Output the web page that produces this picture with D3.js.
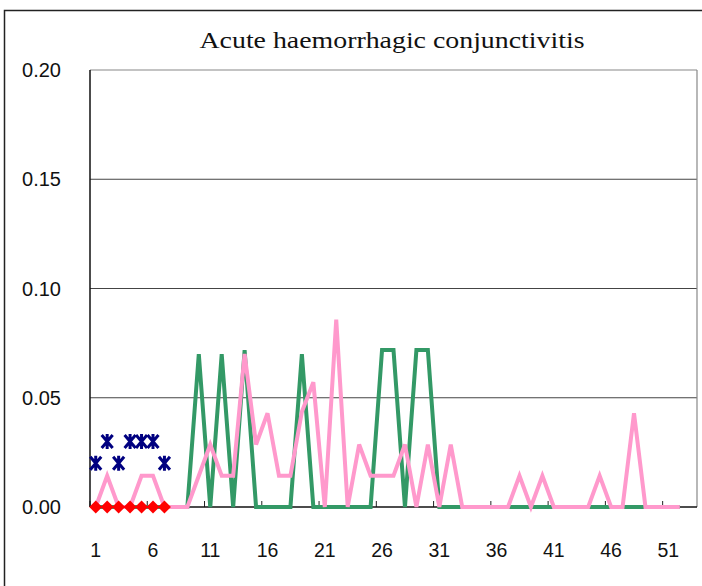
<!DOCTYPE html>
<html><head><meta charset="utf-8">
<script src="https://cdn.jsdelivr.net/npm/d3@7"></script>
<style>body{margin:0;background:#fff}svg{display:block}</style>
</head><body>
<script>
const title = "Acute haemorrhagic conjunctivitis";
const weeks = d3.range(1, 54);
const xTickLabels = [1, 6, 11, 16, 21, 26, 31, 36, 41, 46, 51];
const yTicks = [0, 0.05, 0.10, 0.15, 0.20];
// previous year (green), weeks 1-52
const greenValues = [0,0,0,0,0,0,0,0,0,0.070,0,0.070,0,0.0718,0,0,0,0,0.070,0,0,0,0,0,0,0.0718,0.0718,0,0.0718,0.0718,0,0,0,0,0,0,0,0,0,0,0,0,0,0,0,0,0,0,0,0,0,0];
// average (pink), weeks 1-52
const pinkValues = [0,0.0143,0,0,0.0143,0.0143,0,0,0,0.0143,0.0286,0.0143,0.0143,0.070,0.0286,0.0429,0.0143,0.0143,0.0436,0.0571,0,0.0857,0,0.0286,0.0143,0.0143,0.0143,0.0286,0,0.0286,0,0.0286,0,0,0,0,0,0.0143,0,0.0143,0,0,0,0,0.0143,0,0,0.0429,0,0,0,0];
// navy asterisks, weeks 1-7
const blueValues = [0.020,0.030,0.020,0.030,0.030,0.030,0.020];
// current year red diamonds, weeks 1-7
const redValues = [0,0,0,0,0,0,0];

const W = 702, H = 586;
const L = 90, R = 697, T = 70, B = 507;
const svg = d3.select("body").append("svg").attr("width", W).attr("height", H);

// outer frame
svg.append("path").attr("d", `M4.5,${H} V10.5 H${W}`).attr("fill","none").attr("stroke","#222").attr("stroke-width",1.5);

const x = d3.scaleBand().domain(weeks).range([L, R]).paddingInner(0).paddingOuter(0);
const cx = w => x(w) + x.bandwidth() / 2;
const y = d3.scaleLinear().domain([0, 0.20]).range([B, T]);

// gridlines
svg.append("g").selectAll("line").data(yTicks.filter(d => d > 0)).join("line")
  .attr("x1", L).attr("x2", R).attr("y1", d => y(d)).attr("y2", d => y(d))
  .attr("stroke", d => d === 0.20 ? "#888" : "#444").attr("stroke-width", 1.2);
// right border
svg.append("line").attr("x1", R).attr("x2", R).attr("y1", T).attr("y2", B).attr("stroke", "#888").attr("stroke-width", 1.2);

// y labels
svg.append("g").selectAll("text").data(yTicks).join("text")
  .attr("x", 61).attr("y", d => y(d)).attr("dy", "0.36em")
  .attr("text-anchor", "end").attr("font-family", "Liberation Sans, Arial, sans-serif")
  .attr("font-size", 20).attr("fill", "#111").text(d => d.toFixed(2));

// x axis ticks (inside, at category boundaries every 5)
const tickB = d3.range(0, 53, 5);
svg.append("g").selectAll("line").data(tickB).join("line")
  .attr("x1", d => x(d + 1)).attr("x2", d => x(d + 1)).attr("y1", B).attr("y2", B - 6)
  .attr("stroke", "#222").attr("stroke-width", 1);

// x labels
svg.append("g").selectAll("text").data(xTickLabels).join("text")
  .attr("x", d => cx(d)).attr("y", 557).attr("text-anchor", "middle")
  .attr("font-family", "Liberation Sans, Arial, sans-serif").attr("font-size", 19.5)
  .attr("fill", "#111").text(d => d);

// axis lines
svg.append("line").attr("x1", L).attr("x2", R).attr("y1", B).attr("y2", B).attr("stroke", "#111").attr("stroke-width", 1.5);
svg.append("line").attr("x1", L).attr("x2", L).attr("y1", T).attr("y2", B).attr("stroke", "#111").attr("stroke-width", 1.5);

const line = d3.line().x((d, i) => cx(i + 1)).y(d => y(d));

svg.append("path").datum(greenValues).attr("d", line).attr("fill", "none")
  .attr("stroke", "#339966").attr("stroke-width", 4).attr("stroke-linejoin", "miter").attr("stroke-miterlimit", 3);
svg.append("path").datum(pinkValues).attr("d", line).attr("fill", "none")
  .attr("stroke", "#ff99cc").attr("stroke-width", 4).attr("stroke-linejoin", "miter").attr("stroke-miterlimit", 3);

// navy asterisks
const star = svg.append("g").selectAll("g").data(blueValues).join("g")
  .attr("transform", (d, i) => `translate(${cx(i + 1)},${y(d)})`);
star.append("path").attr("d", "M-5.5,-6.5 L5.5,6.5 M5.5,-6.5 L-5.5,6.5 M0,-7.5 V7.5")
  .attr("stroke", "#000080").attr("stroke-width", 3).attr("fill", "none");

// red line + diamonds
svg.append("path").datum(redValues).attr("d", line).attr("fill", "none").attr("stroke", "#ff0000").attr("stroke-width", 2);
svg.append("g").selectAll("path").data(redValues).join("path")
  .attr("transform", (d, i) => `translate(${cx(i + 1)},${y(d)})`)
  .attr("d", "M0,-6.5 L6.5,0 L0,6.5 L-6.5,0 Z").attr("fill", "#ff0000");

// title
svg.append("text").attr("x", 392).attr("y", 48).attr("text-anchor", "middle")
  .attr("font-family", "Liberation Serif, Times New Roman, serif").attr("font-size", 23)
  .attr("textLength", 385).attr("lengthAdjust", "spacingAndGlyphs")
  .attr("fill", "#111").text(title);
</script>
</body></html>
